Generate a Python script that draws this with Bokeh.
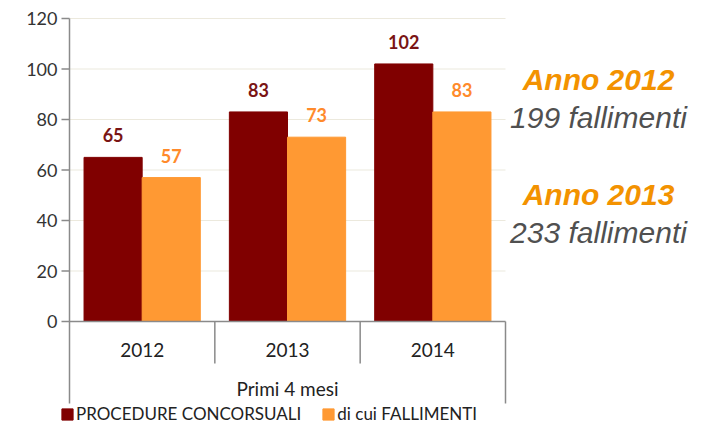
from bokeh.plotting import figure
from bokeh.models import Range1d, Legend, LegendItem, ColumnDataSource
from bokeh.core.properties import value
from bokeh.embed import file_html
from bokeh.resources import INLINE

# ---- data ----
categories = ["2012", "2013", "2014"]
procedure = [65, 83, 102]
fallimenti = [57, 73, 83]
group_label = "Primi 4 mesi"
series_names = ["PROCEDURE CONCORSUALI", "di cui FALLIMENTI"]
yticks = [0, 20, 40, 60, 80, 100, 120]
side_titles = ["Anno 2012", "Anno 2013"]
side_counts = ["199 fallimenti", "233 fallimenti"]

DARK = "#800000"
ORANGE = "#FF9933"
AXIS = "#8A8A8A"
GRID = "#ECE9DD"
FONT = "Lato"

W, H = 690, 425
# plot-area placement in pixels (style)
PX_LEFT, PX_RIGHT, PX_TOP, PX_ZERO, PX_BOTTOM = 69, 505, 18, 321, 403
n = len(categories)
ymax = yticks[-1]
sx = (PX_RIGHT - PX_LEFT) / n            # px per category
sy = (PX_ZERO - PX_TOP) / ymax           # px per unit
x0 = -0.5
x_start = x0 - PX_LEFT / sx
x_end = x0 + (W - PX_LEFT) / sx
y_end = ymax + PX_TOP / sy
y_start = -(H - PX_ZERO) / sy
y_floor = -(PX_BOTTOM - PX_ZERO) / sy
y_mid = -(363 - PX_ZERO) / sy
tick = 8 / sx

p = figure(width=W, height=H, output_backend="svg", toolbar_location=None,
           x_range=Range1d(x_start, x_end), y_range=Range1d(y_start, y_end),
           min_border=0)
p.outline_line_color = None
p.axis.visible = False
p.grid.visible = False
p.background_fill_color = "white"
p.border_fill_color = "white"

idx = list(range(n))
x_end_plot = x0 + n

# gridlines
gl = [t for t in yticks if t > 0]
p.segment(x0=[x0] * len(gl), y0=gl, x1=[x_end_plot] * len(gl), y1=gl,
          line_color=GRID, line_width=1.2)

# bars
src_d = ColumnDataSource(dict(x=[i - 0.2 for i in idx], top=procedure,
                              lab=[str(v) for v in procedure]))
src_o = ColumnDataSource(dict(x=[i + 0.2 for i in idx], top=fallimenti,
                              lab=[str(v) for v in fallimenti]))
r_d = p.vbar(x="x", top="top", width=0.4, bottom=0, source=src_d,
             fill_color=DARK, line_color=DARK)
r_o = p.vbar(x="x", top="top", width=0.4, bottom=0, source=src_o,
             fill_color=ORANGE, line_color=ORANGE)

# value labels
p.text(x="x", y="top", text="lab", source=src_d, text_align="center",
       text_baseline="alphabetic", y_offset=-22, text_font=value(FONT),
       text_font_style="bold", text_font_size="18px", text_color="#7A1414")
p.text(x="x", y="top", text="lab", source=src_o, text_align="center",
       text_baseline="alphabetic", y_offset=-22, text_font=value(FONT),
       text_font_style="bold", text_font_size="18px", text_color="#FF8A2B")

# y axis
p.segment(x0=[x0], y0=[ymax], x1=[x0], y1=[y_floor], line_color=AXIS, line_width=1.5)
p.segment(x0=[x0 - tick] * len(yticks), y0=yticks, x1=[x0] * len(yticks), y1=yticks,
          line_color=AXIS, line_width=1.5)
p.text(x=[x0] * len(yticks), y=yticks, text=[str(t) for t in yticks], x_offset=-12,
       text_align="right", text_baseline="middle", text_font=value(FONT),
       text_font_size="18px", text_color="#333333")

# category axis
p.segment(x0=[x0], y0=[0], x1=[x_end_plot], y1=[0], line_color=AXIS, line_width=1.5)
p.segment(x0=[i + 0.5 for i in idx[:-1]], y0=[0] * (n - 1),
          x1=[i + 0.5 for i in idx[:-1]], y1=[y_mid] * (n - 1),
          line_color=AXIS, line_width=1.5)
p.segment(x0=[x_end_plot], y0=[0], x1=[x_end_plot], y1=[y_floor],
          line_color=AXIS, line_width=1.5)
p.text(x=idx, y=[-(349 - PX_ZERO) / sy] * n, text=categories, text_align="center",
       text_baseline="middle", text_font=value(FONT), text_font_size="19px",
       text_color="#222222")
p.text(x=[(n - 1) / 2], y=[-(388 - PX_ZERO) / sy], text=[group_label], text_align="center",
       text_baseline="middle", text_font=value(FONT), text_font_size="19px",
       text_color="#222222")

# legend
legend = Legend(items=[LegendItem(label=series_names[0], renderers=[r_d]),
                       LegendItem(label=series_names[1], renderers=[r_o])],
                orientation="horizontal", location=(60, 1),
                glyph_width=14, glyph_height=14, label_standoff=2, spacing=20,
                padding=0, margin=0, label_height=16,
                label_text_font=FONT, label_text_font_size="17px",
                label_text_color="#222222",
                border_line_color=None, background_fill_alpha=0)
p.add_layout(legend, "center")

# side annotations
side_x = x0 + (598 - PX_LEFT) / sx
ys_title = [95.9, 50.3]
ys_count = [80.8, 35.3]
p.text(x=[side_x] * 2, y=ys_title, text=side_titles, text_align="center",
       text_baseline="alphabetic", text_font=value("Liberation Sans"),
       text_font_style="bold italic", text_font_size="30px", text_color="#F39200")
p.text(x=[side_x] * 2, y=ys_count, text=side_counts, text_align="center",
       text_baseline="alphabetic", text_font=value("Liberation Sans"),
       text_font_style="italic", text_font_size="30px", text_color="#505050")

open("out.html", "w").write(file_html(p, INLINE))
